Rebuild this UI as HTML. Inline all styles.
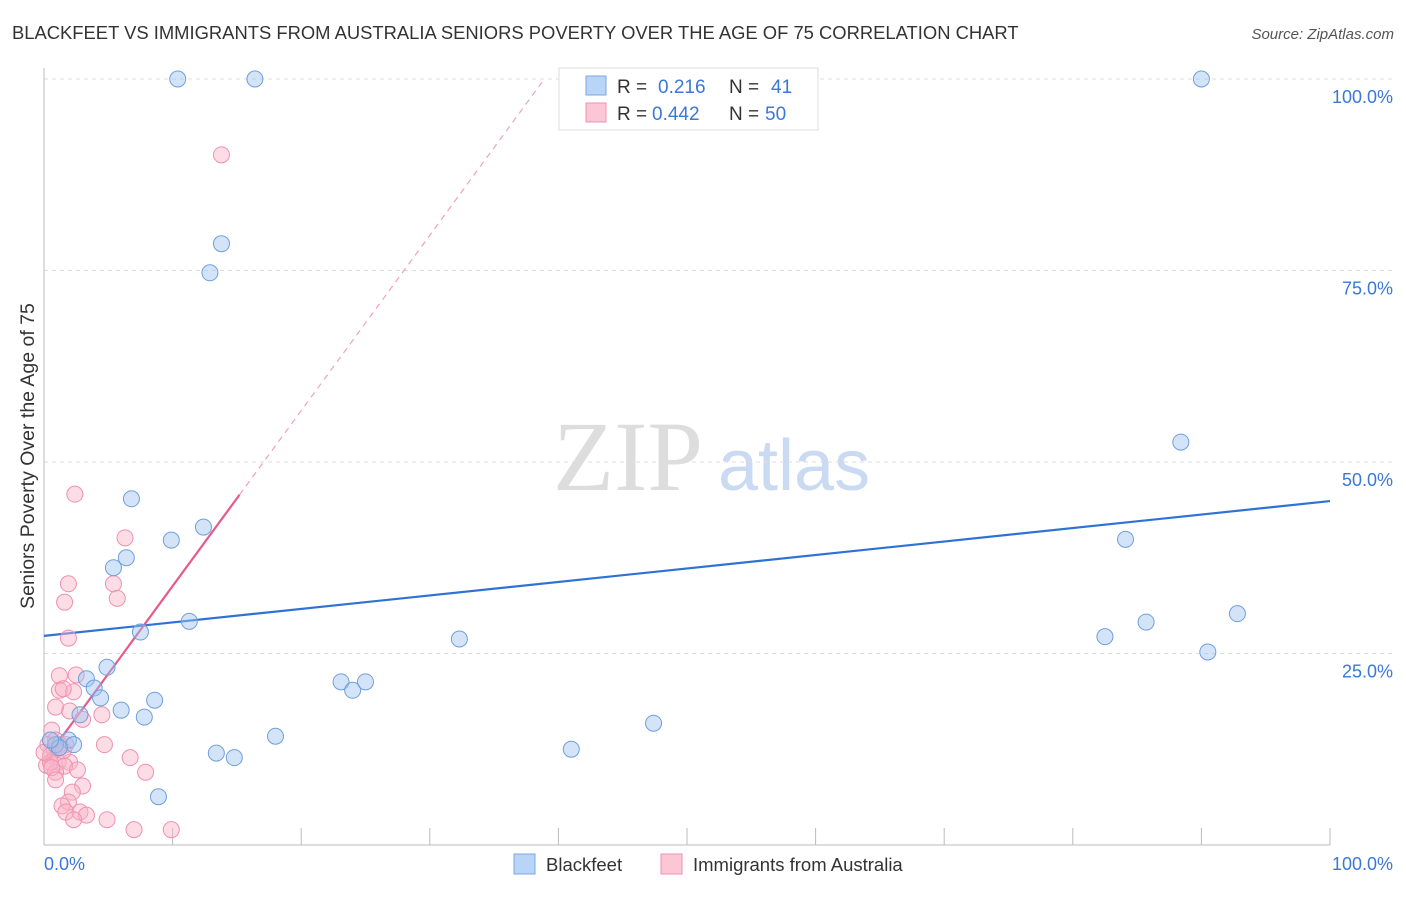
<!DOCTYPE html>
<html><head><meta charset="utf-8"><style>
body{margin:0;background:#fff;font-family:"Liberation Sans",sans-serif;}
</style></head><body>
<svg id="chart" width="1406" height="892" xmlns="http://www.w3.org/2000/svg" font-family="Liberation Sans, sans-serif">
<text x="12" y="39" font-size="18.4" fill="#333">BLACKFEET VS IMMIGRANTS FROM AUSTRALIA SENIORS POVERTY OVER THE AGE OF 75 CORRELATION CHART</text>
<text x="1394" y="39" font-size="15" fill="#555" text-anchor="end" font-style="italic">Source: ZipAtlas.com</text>
<g>
<text x="553" y="490" font-size="100" fill="#ddd" style="font-family:'Liberation Serif',serif">ZIP</text>
<text x="718" y="490" font-size="72" fill="#c9daf2">atlas</text>
</g>
<g id="grid"></g>
<g id="axes"></g>
<g id="lines"></g>
<g id="pts"></g>
<text transform="translate(34,456) rotate(-90)" font-size="19.5" fill="#333" text-anchor="middle">Seniors Poverty Over the Age of 75</text>
<g>
<rect x="559" y="68" width="259" height="62" fill="#fff" stroke="#ddd"/>
<rect x="586" y="76" width="20" height="19" fill="#b8d4f6" stroke="#7aa8e0"/>
<rect x="586" y="103" width="20" height="19" fill="#fbc6d6" stroke="#f090b0"/>
<text x="617" y="93" font-size="19" fill="#333">R = <tspan x="658" fill="#3a78d8">0.216</tspan><tspan x="729">N = </tspan><tspan x="771" fill="#3a78d8">41</tspan></text>
<text x="617" y="120" font-size="19" fill="#333">R = <tspan x="652" fill="#3a78d8">0.442</tspan><tspan x="729">N = </tspan><tspan x="765" fill="#3a78d8">50</tspan></text>
</g>
<g>
<rect x="514" y="854" width="21" height="20" fill="#b8d4f6" stroke="#7aa8e0"/>
<text x="546" y="871" font-size="18.5" fill="#333">Blackfeet</text>
<rect x="661" y="854" width="21" height="20" fill="#fbc6d6" stroke="#f090b0"/>
<text x="693" y="871" font-size="18.5" fill="#333">Immigrants from Australia</text>
</g>
</svg>
<script>
const blueX=[10.4,16.4,90.0,13.8,12.9,88.4,6.8,9.9,12.4,6.4,5.4,84.1,7.5,11.3,92.8,85.7,82.5,32.3,90.5,4.9,3.3,3.9,4.4,8.6,6.0,7.8,2.8,23.1,24.0,25.0,47.4,18.0,13.4,14.8,41.0,8.9,1.9,2.3,0.9,1.2,0.5];
const blueY=[100,100,100,78.5,74.7,52.6,45.2,39.8,41.5,37.5,36.2,39.9,27.8,29.2,30.2,29.1,27.2,26.9,25.2,23.2,21.7,20.5,19.2,18.9,17.6,16.7,17.0,21.3,20.2,21.3,15.9,14.2,12.0,11.4,12.5,6.3,13.7,13.1,13.1,12.7,13.7];
const pinkX=[13.8,2.4,6.3,1.9,5.4,1.6,5.7,1.9,1.2,2.5,1.2,2.3,1.5,0.9,2.0,3.0,4.5,0.6,4.7,0.3,0.8,1.2,1.7,0.5,1.1,2.0,0.2,1.6,2.6,0.9,6.7,7.9,3.0,2.2,1.9,1.4,1.7,2.8,3.3,2.3,4.9,7.0,9.9,0.5,0.9,1.2,1.5,0.0,0.6,0.9];
const pinkY=[90.1,45.8,40.1,34.1,34.1,31.7,32.2,27.0,22.1,22.2,20.2,20.0,20.4,18.0,17.5,16.4,17.0,15.0,13.1,13.1,12.4,12.7,13.1,11.7,10.8,10.8,10.4,10.3,9.8,9.5,11.4,9.5,7.7,6.9,5.6,5.1,4.3,4.3,3.9,3.3,3.3,2.0,2.0,10.8,13.7,13.1,12.3,12.1,10.1,8.5];
const yTicks=[25,50,75,100];
const yTickLabels=["25.0%","50.0%","75.0%","100.0%"];
const blueTrend=[27.3,44.9];
const pinkTrend=[10.9,2.29];

const X0=44,X1=1330,Y0=845,Y100=79;
const sx=v=>X0+(X1-X0)*v/100;
const sy=v=>Y0-(Y0-Y100)*v/100;
const NS="http://www.w3.org/2000/svg";
function mk(tag,attrs,parent){const e=document.createElementNS(NS,tag);for(const k in attrs)e.setAttribute(k,attrs[k]);parent.appendChild(e);return e;}
const grid=document.getElementById('grid'),axes=document.getElementById('axes'),lines=document.getElementById('lines'),pts=document.getElementById('pts');
yTicks.forEach((t,i)=>{
 const l=mk('line',{x1:X0,x2:1394,y1:sy(t),y2:sy(t),stroke:'#ddd','stroke-dasharray':'4,4'},grid);
 
 
 const tx=mk('text',{x:1393,y:sy(t)+24,'font-size':18,fill:'#3a78d8','text-anchor':'end'},axes);
 tx.textContent=yTickLabels[i];
 
 
});
mk('line',{x1:X0,x2:X0,y1:68,y2:Y0,stroke:'#bbb'},axes);
mk('line',{x1:X0,x2:X1,y1:Y0,y2:Y0,stroke:'#bbb'},axes);
for(let i=0;i<=10;i++){mk('line',{x1:sx(i*10),x2:sx(i*10),y1:828,y2:Y0,stroke:'#bbb'},axes);}
let t0=mk('text',{x:44,y:870,'font-size':18,fill:'#3a78d8'},axes);t0.textContent='0.0%';


let t1=mk('text',{x:1393,y:870,'font-size':18,fill:'#3a78d8','text-anchor':'end'},axes);t1.textContent='100.0%';


const bl=mk('line',{x1:sx(0),y1:sy(blueTrend[0]),x2:sx(100),y2:sy(blueTrend[1]),stroke:'#2f72d6','stroke-width':2.2},lines);


const pf=x=>pinkTrend[0]+pinkTrend[1]*x;
const xs=0,xe=15.2,xTop=(100-pinkTrend[0])/pinkTrend[1];
const pd=mk('line',{x1:sx(xe),y1:sy(pf(xe)),x2:sx(xTop),y2:sy(100),stroke:'#f0a0bc','stroke-width':1.2,'stroke-dasharray':'6,5'},lines);


const pl=mk('line',{x1:sx(xs),y1:sy(pf(xs)),x2:sx(xe),y2:sy(pf(xe)),stroke:'#e8588a','stroke-width':2.2},lines);


pinkX.forEach((x,i)=>{
 const c=mk('circle',{cx:sx(x),cy:sy(pinkY[i]),r:8,fill:'rgba(248,180,200,0.45)',stroke:'#f090b0','stroke-width':1},pts);
 
 
});
blueX.forEach((x,i)=>{
 const c=mk('circle',{cx:sx(x),cy:sy(blueY[i]),r:8,fill:'rgba(160,196,240,0.45)',stroke:'#6f9fdc','stroke-width':1},pts);
 
 
});
</script>
</body></html>
